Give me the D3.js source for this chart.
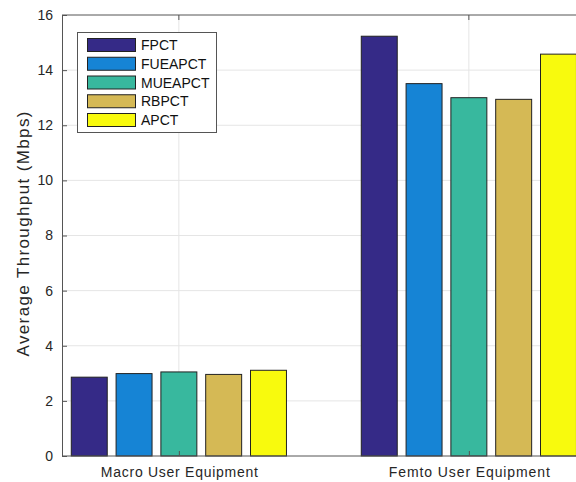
<!DOCTYPE html>
<html><head><meta charset="utf-8">
<script src="https://cdn.jsdelivr.net/npm/d3@7/dist/d3.min.js"></script>
<style>body{margin:0;background:#fff;}svg{display:block;font-family:"Liberation Sans",Arial,sans-serif;}</style>
</head><body>
<svg id="c" width="576" height="482"></svg>
<script>
const categories = ["Macro User Equipment", "Femto User Equipment"];
const seriesNames = ["FPCT", "FUEAPCT", "MUEAPCT", "RBPCT", "APCT"];
const FPCT    = [2.86, 15.23];
const FUEAPCT = [2.99, 13.51];
const MUEAPCT = [3.05, 13.00];
const RBPCT   = [2.96, 12.94];
const APCT    = [3.11, 14.58];
const seriesValues = [FPCT, FUEAPCT, MUEAPCT, RBPCT, APCT];
const colors = ["#352a87", "#1684d5", "#38b89e", "#d5b955", "#f8fa0d"];
const yTicks = [0, 2, 4, 6, 8, 10, 12, 14, 16];

const svg = d3.select("#c");
const L = 62, T = 15, B = 456;
const x = d3.scaleLinear().domain([0.597, 2.4]).range([L, L + (2.4 - 0.597) * 290]);
const y = d3.scaleLinear().domain([0, 16]).range([B, T]);
const Rr = x(2.4);

// grid
const g = svg.append("g");
g.selectAll("line.hg").data(yTicks.slice(1, -1)).join("line")
  .attr("x1", L).attr("x2", Rr).attr("y1", d => y(d)).attr("y2", d => y(d))
  .attr("stroke", "#e5e5e5").attr("stroke-width", 1);
g.selectAll("line.vg").data([1, 2]).join("line")
  .attr("x1", d => x(d)).attr("x2", d => x(d)).attr("y1", T).attr("y2", B)
  .attr("stroke", "#e5e5e5").attr("stroke-width", 1);

// bars
const step = 0.1545, bw = 0.124;
seriesValues.forEach((vals, si) => {
  svg.append("g").selectAll("rect").data(vals).join("rect")
    .attr("x", (d, i) => x(i + 1 + (si - 2) * step - bw / 2))
    .attr("width", x(bw) - x(0))
    .attr("y", d => y(d))
    .attr("height", d => y(0) - y(d))
    .attr("fill", colors[si])
    .attr("stroke", "#222").attr("stroke-width", 1);
});

// axes
const yAxis = d3.axisLeft(y).tickValues(yTicks).tickSize(-5).tickPadding(9).tickFormat(d3.format("d"));
const ya = svg.append("g").attr("transform", `translate(${L},0)`).call(yAxis);
ya.select(".domain").attr("stroke", "#555");
ya.selectAll(".tick line").attr("stroke", "#555");
ya.selectAll("text").attr("font-size", 14).attr("fill", "#262626").attr("font-family", "Liberation Sans, Arial, sans-serif");

const xAxis = d3.axisBottom(x).tickValues([1, 2]).tickSize(-5).tickPadding(11).tickFormat((d, i) => categories[i]);
const xa = svg.append("g").attr("transform", `translate(0,${B})`).call(xAxis);
xa.select(".domain").attr("stroke", "#555").attr("d", `M${L},0H${Rr}`);
xa.selectAll(".tick line").attr("stroke", "#555");
xa.selectAll("text").attr("font-size", 14).attr("fill", "#262626").attr("font-family", "Liberation Sans, Arial, sans-serif")
  .attr("textLength", (d, i) => i === 0 ? 157 : 161).attr("lengthAdjust", "spacing");

// top border and ticks
svg.append("line").attr("x1", L).attr("x2", Rr).attr("y1", T).attr("y2", T).attr("stroke", "#555");
svg.selectAll("line.tt").data([1, 2]).join("line")
  .attr("x1", d => x(d)).attr("x2", d => x(d)).attr("y1", T).attr("y2", T + 5).attr("stroke", "#555");

// y label
svg.append("text").attr("transform", `translate(29,${234}) rotate(-90)`)
  .attr("text-anchor", "middle").attr("font-size", 17).attr("fill", "#262626")
  .attr("textLength", 245).attr("lengthAdjust", "spacing")
  .text("Average Throughput (Mbps)");

// legend
const lg = svg.append("g");
lg.append("rect").attr("x", 77.5).attr("y", 32.5).attr("width", 139).attr("height", 100)
  .attr("fill", "#fff").attr("stroke", "#555").attr("stroke-width", 1);
seriesNames.forEach((n, i) => {
  const cy = 45 + i * 18.75;
  lg.append("rect").attr("x", 87.5).attr("y", cy - 6.5).attr("width", 48).attr("height", 13)
    .attr("fill", colors[i]).attr("stroke", "#222");
  lg.append("text").attr("x", 141).attr("y", cy + 5).attr("font-size", 14).attr("fill", "#111").text(n);
});
</script>
</body></html>
